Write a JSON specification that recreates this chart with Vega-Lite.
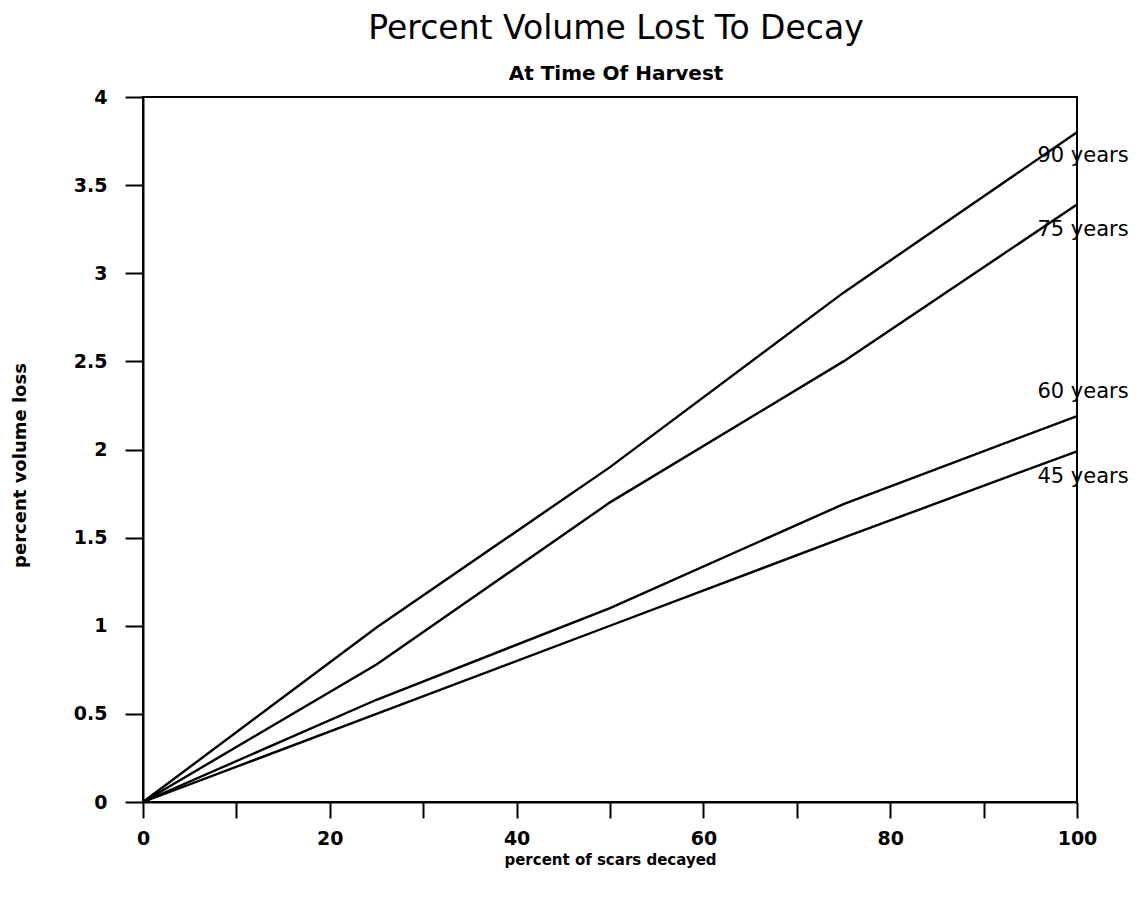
{
  "$schema": "https://vega.github.io/schema/vega-lite/v6.json",
  "autosize": "none",
  "padding": {"left": 143, "top": 97, "right": 64, "bottom": 101},
  "width": 934,
  "height": 705,
  "background": "white",
  "title": {
    "text": "Percent Volume Lost To Decay",
    "subtitle": "At Time Of Harvest",
    "anchor": "middle",
    "dx": 6,
    "font": "DejaVu Sans",
    "fontSize": 33,
    "fontWeight": "normal",
    "color": "black",
    "subtitleFont": "DejaVu Sans",
    "subtitleFontSize": 20,
    "subtitleFontWeight": "bold",
    "subtitleColor": "black",
    "subtitlePadding": 18,
    "offset": 4
  },
  "config": {
    "view": {"stroke": "black", "strokeWidth": 2},
    "axis": {
      "domainColor": "black",
      "domainWidth": 2,
      "tickColor": "black",
      "tickWidth": 2,
      "grid": false,
      "labelFont": "DejaVu Sans",
      "labelFontWeight": "bold",
      "labelColor": "black",
      "titleFont": "DejaVu Sans",
      "titleFontWeight": "bold",
      "titleColor": "black"
    }
  },
  "data": {
    "values": [
      {"age": "90 years", "scars": 0, "loss": 0},
      {"age": "90 years", "scars": 25, "loss": 0.99},
      {"age": "90 years", "scars": 50, "loss": 1.9},
      {"age": "90 years", "scars": 75, "loss": 2.89},
      {"age": "90 years", "scars": 100, "loss": 3.8},
      {"age": "75 years", "scars": 0, "loss": 0},
      {"age": "75 years", "scars": 25, "loss": 0.78},
      {"age": "75 years", "scars": 50, "loss": 1.7},
      {"age": "75 years", "scars": 75, "loss": 2.5},
      {"age": "75 years", "scars": 100, "loss": 3.39},
      {"age": "60 years", "scars": 0, "loss": 0},
      {"age": "60 years", "scars": 25, "loss": 0.58},
      {"age": "60 years", "scars": 50, "loss": 1.1},
      {"age": "60 years", "scars": 75, "loss": 1.69},
      {"age": "60 years", "scars": 100, "loss": 2.19},
      {"age": "45 years", "scars": 0, "loss": 0},
      {"age": "45 years", "scars": 25, "loss": 0.5},
      {"age": "45 years", "scars": 50, "loss": 1.0},
      {"age": "45 years", "scars": 75, "loss": 1.5},
      {"age": "45 years", "scars": 100, "loss": 1.99}
    ]
  },
  "encoding": {
    "x": {
      "field": "scars",
      "type": "quantitative",
      "scale": {"domain": [0, 100], "nice": false, "zero": false},
      "axis": {
        "title": "percent of scars decayed",
        "values": [0, 10, 20, 30, 40, 50, 60, 70, 80, 90, 100],
        "labelExpr": "datum.value % 20 == 0 ? datum.label : ''",
        "tickSize": 16,
        "labelPadding": 11,
        "labelFontSize": 19,
        "labelFlush": false,
        "titleFontSize": 15,
        "titleX": 467,
        "titleY": 57,
        "titleBaseline": "middle"
      }
    },
    "y": {
      "field": "loss",
      "type": "quantitative",
      "scale": {"domain": [0, 4], "nice": false},
      "axis": {
        "title": "percent volume loss",
        "values": [0, 0.5, 1, 1.5, 2, 2.5, 3, 3.5, 4],
        "format": "~g",
        "tickSize": 18,
        "labelPadding": 18,
        "labelFontSize": 19,
        "labelFlush": false,
        "titleFontSize": 18,
        "titleAngle": -90,
        "titleX": -123,
        "titleY": 368,
        "titleAlign": "center",
        "titleBaseline": "middle"
      }
    }
  },
  "layer": [
    {
      "mark": {"type": "line", "color": "black", "strokeWidth": 2.4},
      "encoding": {"detail": {"field": "age"}}
    },
    {
      "transform": [{"filter": "datum.scars == 100 && datum.age == '90 years'"}],
      "mark": {"type": "text", "font": "DejaVu Sans", "fontSize": 21, "color": "black", "align": "center", "baseline": "middle", "dx": 6, "dy": 24},
      "encoding": {"text": {"field": "age"}}
    },
    {
      "transform": [{"filter": "datum.scars == 100 && datum.age == '75 years'"}],
      "mark": {"type": "text", "font": "DejaVu Sans", "fontSize": 21, "color": "black", "align": "center", "baseline": "middle", "dx": 6, "dy": 25},
      "encoding": {"text": {"field": "age"}}
    },
    {
      "transform": [{"filter": "datum.scars == 100 && datum.age == '60 years'"}],
      "mark": {"type": "text", "font": "DejaVu Sans", "fontSize": 21, "color": "black", "align": "center", "baseline": "middle", "dx": 6, "dy": -24},
      "encoding": {"text": {"field": "age"}}
    },
    {
      "transform": [{"filter": "datum.scars == 100 && datum.age == '45 years'"}],
      "mark": {"type": "text", "font": "DejaVu Sans", "fontSize": 21, "color": "black", "align": "center", "baseline": "middle", "dx": 6, "dy": 26},
      "encoding": {"text": {"field": "age"}}
    }
  ]
}
